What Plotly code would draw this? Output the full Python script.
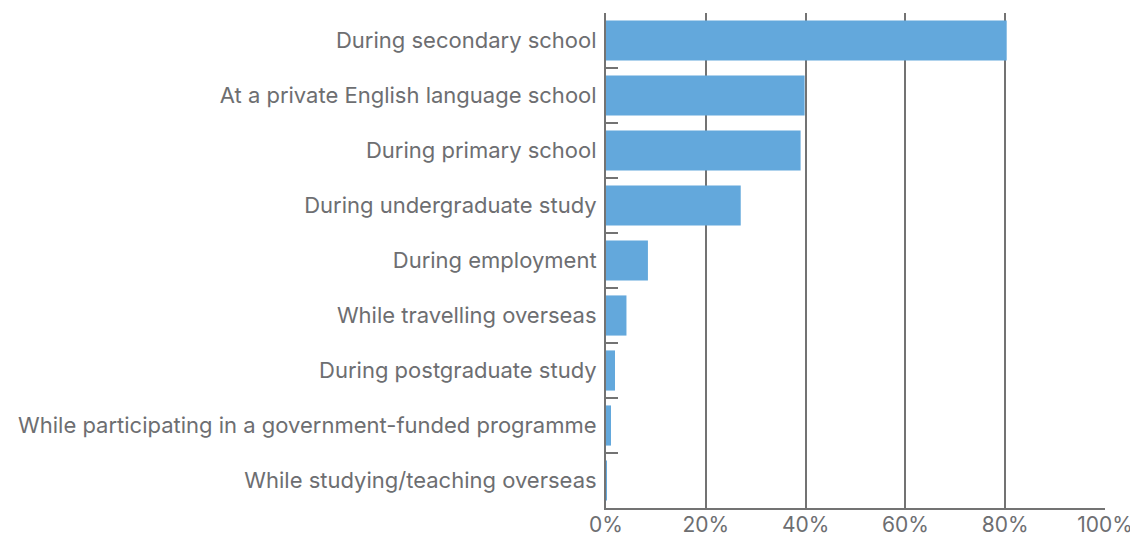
import plotly.graph_objects as go

categories = [
    "During secondary school",
    "At a private English language school",
    "During primary school",
    "During undergraduate study",
    "During employment",
    "While travelling overseas",
    "During postgraduate study",
    "While participating in a government-funded programme",
    "While studying/teaching overseas",
]
values = [80.3, 39.8, 39.0, 27.0, 8.4, 4.1, 1.8, 1.0, 0.2]
tick_vals = [0, 20, 40, 60, 80, 100]
tick_text = ["0%", "20%", "40%", "60%", "80%", "100%"]

grey = "#737373"
text_grey = "#6d6e71"

fig = go.Figure(go.Bar(
    x=values, y=categories, orientation="h",
    marker=dict(color="#63a8dc", line=dict(width=0)),
    hoverinfo="x+y",
))

fig.update_layout(
    width=1130, height=530,
    margin=dict(l=598, r=33, t=5, b=30),
    paper_bgcolor="white", plot_bgcolor="white",
    bargap=0.27,
    showlegend=False,
    font=dict(family="Inter, Roboto, sans-serif", size=22, color=text_grey),
    xaxis=dict(
        range=[0, 100], tickvals=tick_vals, ticktext=tick_text,
        showgrid=True, gridcolor=grey, gridwidth=2,
        showline=True, linecolor=grey, linewidth=2,
        zeroline=False, ticks="", fixedrange=True, automargin=False,
        ticklabelstandoff=-3,
        tickfont=dict(size=21, color=text_grey),
    ),
    yaxis=dict(
        categoryorder="array", categoryarray=categories[::-1],
        autorange=False, range=[-0.5, len(categories) - 0.5],
        showline=True, linecolor=grey, linewidth=2, automargin=False,
        ticks="inside", tickson="boundaries", ticklen=12, tickwidth=2, tickcolor=grey,
        showgrid=False, ticklabelstandoff=3,
        tickfont=dict(size=22, color=text_grey),
    ),
)

fig.write_html("out.html")
